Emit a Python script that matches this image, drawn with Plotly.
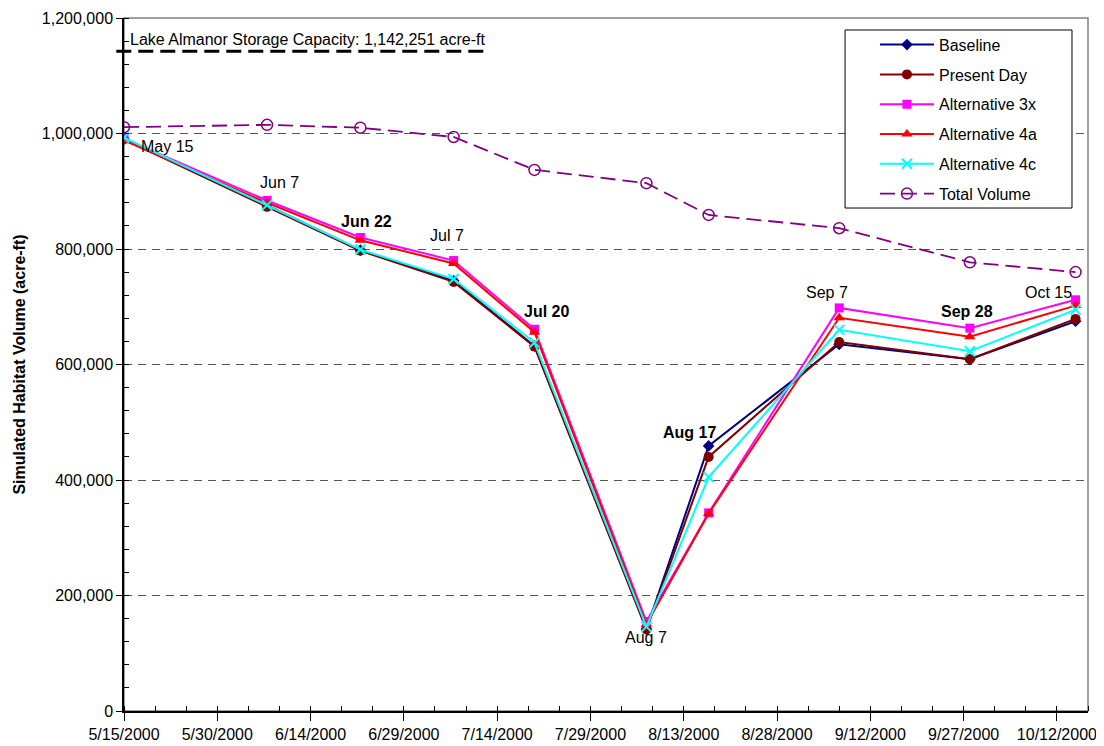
import plotly.graph_objects as go

# sample dates
dates = ['2000-05-15', '2000-06-07', '2000-06-22', '2000-07-07', '2000-07-20',
         '2000-08-07', '2000-08-17', '2000-09-07', '2000-09-28', '2000-10-15']

baseline = [990000, 876000, 798000, 745000, 632000, 142000, 459000, 635000, 609000, 675000]
present_day = [990000, 873000, 797000, 743000, 631000, 141000, 440000, 639000, 609000, 679000]
alt_3x = [991000, 884000, 820000, 780000, 661000, 155000, 343000, 698000, 663000, 712000]
alt_4a = [988000, 880000, 815000, 775000, 656000, 150000, 342000, 681000, 648000, 702000]
alt_4c = [993000, 876000, 799000, 748000, 638000, 146000, 405000, 660000, 623000, 695000]
total_volume = [1011000, 1015000, 1010000, 994000, 937000, 914000, 859000, 836000, 777000, 760000]

storage_capacity = 1142251

# date labels on the chart: text, bold?, label x, label y
label_text = ['May 15', 'Jun 7', 'Jun 22', 'Jul 7', 'Jul 20', 'Aug 7', 'Aug 17', 'Sep 7', 'Sep 28', 'Oct 15']
label_bold = [False, False, True, False, True, False, True, False, True, False]
label_x = ['2000-05-22', '2000-06-09', '2000-06-23', '2000-07-06', '2000-07-22',
           '2000-08-07', '2000-08-14', '2000-09-05', '2000-09-27 12:00', '2000-10-10 16:00']
label_y = [977000, 916000, 847000, 824000, 691000, 128000, 483000, 724000, 691000, 724000]

series = [
    ('Baseline', baseline, '#000080', 'diamond', 9),
    ('Present Day', present_day, '#800000', 'circle', 10),
    ('Alternative 3x', alt_3x, '#FF00FF', 'square', 9),
    ('Alternative 4a', alt_4a, '#FF0000', 'triangle-up', 10),
    ('Alternative 4c', alt_4c, '#00FFFF', 'x-thin', 10),
]

FONT = 'Liberation Sans, Arial, sans-serif'

fig = go.Figure()

for name, vals, color, symbol, size in series:
    marker = dict(symbol=symbol, size=size, color=color)
    if symbol == 'x-thin':
        marker['line'] = dict(color=color, width=2)
    fig.add_trace(go.Scatter(
        x=dates, y=vals, name=name, mode='lines+markers',
        line=dict(color=color, width=2),
        marker=marker,
        legendgroup=name
    ))

fig.add_trace(go.Scatter(
    x=dates, y=total_volume, name='Total Volume', mode='lines+markers',
    line=dict(color='#800080', width=1.8, dash='15px,7px'),
    marker=dict(symbol='circle-open', size=11, color='#800080', line=dict(width=1.5)),
    legendgroup='Total Volume'
))

# plot border (top/right gray)
fig.add_shape(type='rect', xref='paper', yref='paper', x0=0, x1=1, y0=0, y1=1,
              line=dict(color='#808080', width=1.5), layer='below')

# legend frame (wider than plotly's own box)
fig.add_shape(type='rect', xref='paper', yref='paper', x0=0.748, x1=0.9834, y0=0.7258, y1=0.9827,
              line=dict(color='black', width=1), fillcolor='white', layer='above')

# storage capacity line
fig.add_shape(type='line', xref='paper', yref='y', x0=-0.008, x1=0.377,
              y0=storage_capacity, y1=storage_capacity,
              line=dict(color='black', width=3, dash='15px,7px'))
fig.add_annotation(xref='paper', yref='y', x=0.004, y=storage_capacity,
                   text='Lake Almanor Storage Capacity: 1,142,251 acre-ft',
                   showarrow=False, xanchor='left', yanchor='bottom', yshift=1,
                   font=dict(family=FONT, size=16, color='black'))

for txt, bold, lx, ly in zip(label_text, label_bold, label_x, label_y):
    fig.add_annotation(x=lx, y=ly, text=f'<b>{txt}</b>' if bold else txt,
                       showarrow=False, xanchor='center', yanchor='middle',
                       font=dict(family=FONT, size=16, color='black'))

# page body has an 8px margin, so the figure is a bit smaller and margins shifted
fig.update_layout(
    width=1096, height=738,
    margin=dict(l=116, r=16, t=10, b=35),
    paper_bgcolor='white', plot_bgcolor='white',
    font=dict(family=FONT, size=16, color='black'),
    showlegend=True,
    legend=dict(x=0.779, y=0.986, xanchor='left', yanchor='top',
                borderwidth=0, bgcolor='rgba(0,0,0,0)',
                font=dict(family=FONT, size=16),
                tracegroupgap=6, itemwidth=54),
    xaxis=dict(
        type='date', range=['2000-05-15', '2000-10-17'],
        tick0='2000-05-15', dtick=15 * 86400000, tickformat='%-m/%-d/%Y',
        showgrid=False, zeroline=False, automargin=False,
        showline=True, linecolor='black', linewidth=1.5,
        ticks='outside', ticklen=8, tickcolor='black',
        minor=dict(dtick=5 * 86400000, tick0='2000-05-15', ticks='inside', ticklen=5, tickcolor='black'),
        tickfont=dict(family=FONT, size=16),
    ),
    yaxis=dict(
        range=[0, 1200000], dtick=200000, tickformat=',',
        showgrid=True, gridcolor='#555555', griddash='8px,6px', gridwidth=1,
        zeroline=False, automargin=False,
        showline=True, linecolor='black', linewidth=1.5,
        ticks='outside', ticklen=6, tickcolor='black',
        minor=dict(dtick=40000, ticks='inside', ticklen=5, tickcolor='black', showgrid=False),
        title=dict(text='<b>Simulated Habitat Volume (acre-ft)</b>', font=dict(family=FONT, size=16), standoff=12),
        tickfont=dict(family=FONT, size=16),
    ),
)

fig.write_html('out.html')
